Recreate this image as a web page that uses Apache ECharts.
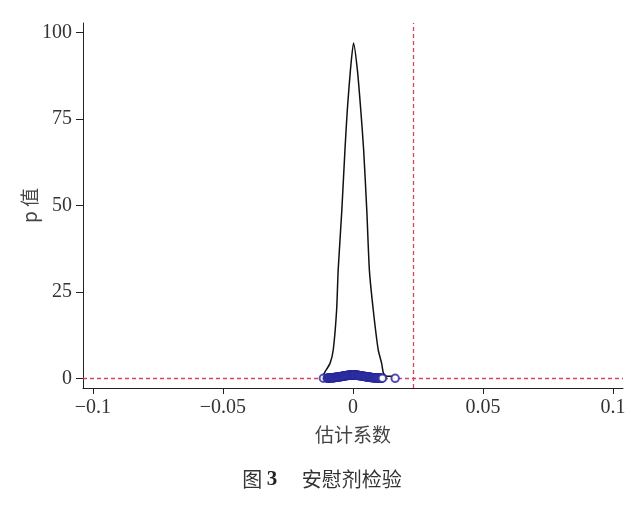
<!DOCTYPE html>
<html>
<head>
<meta charset="utf-8">
<script src="https://cdn.jsdelivr.net/npm/echarts@6/dist/echarts.min.js"></script>
<style>html,body{margin:0;padding:0;background:#fff;}#c{width:644px;height:506px;}</style>
</head>
<body>
<div id="c"></div>
<script>
// x tick labels / y tick labels
var xTicks = [-0.1, -0.05, 0, 0.05, 0.1];
var yTicks = [0, 25, 50, 75, 100];
// kernel density curve of placebo estimates (x = coefficient, y = density)
var densX = [-0.0115, -0.0108, -0.0088, -0.0076, -0.0063, -0.0057, -0.0043, -0.0031, -0.0022, -0.0010, 0.0002, 0.0017, 0.0030, 0.0041, 0.0053, 0.0063, 0.0078, 0.0097, 0.0110, 0.0117, 0.0130, 0.0154];
var densY = [0.9, 1.8, 4.4, 8.2, 19.7, 31.3, 48.6, 66.0, 77.5, 89.1, 97.0, 89.1, 77.5, 66.0, 48.6, 31.3, 19.7, 8.2, 4.4, 1.5, 0.6, 0.6];
// placebo estimates and their p values
var coefX = [-0.0114, -0.0099, -0.0097, -0.0095, -0.0093, -0.0090, -0.0088, -0.0085, -0.0083, -0.0081, -0.0079, -0.0077, -0.0075, -0.0073, -0.0071, -0.0068, -0.0066, -0.0064, -0.0063, -0.0060, -0.0058, -0.0056, -0.0055, -0.0053, -0.0051, -0.0048, -0.0046, -0.0044, -0.0043, -0.0040, -0.0038, -0.0036, -0.0035, -0.0033, -0.0031, -0.0029, -0.0027, -0.0024, -0.0022, -0.0020, -0.0019, -0.0016, -0.0014, -0.0012, -0.0011, -0.0008, -0.0006, -0.0004, -0.0002, 0.0000, 0.0001, 0.0003, 0.0005, 0.0007, 0.0009, 0.0011, 0.0013, 0.0016, 0.0018, 0.0020, 0.0021, 0.0023, 0.0025, 0.0028, 0.0030, 0.0032, 0.0034, 0.0036, 0.0039, 0.0041, 0.0043, 0.0045, 0.0047, 0.0049, 0.0051, 0.0052, 0.0054, 0.0057, 0.0059, 0.0061, 0.0063, 0.0065, 0.0067, 0.0069, 0.0071, 0.0073, 0.0075, 0.0077, 0.0079, 0.0081, 0.0083, 0.0086, 0.0088, 0.0090, 0.0093, 0.0095, 0.0097, 0.0100, 0.0102, 0.0105, 0.0108, 0.0111, 0.0113, 0.0162];
var pVal  = [0.02, 0.04, 0.06, 0.03, 0.08, 0.11, 0.07, 0.13, 0.10, 0.16, 0.14, 0.19, 0.17, 0.23, 0.20, 0.28, 0.25, 0.33, 0.29, 0.36, 0.33, 0.41, 0.38, 0.46, 0.43, 0.51, 0.48, 0.56, 0.53, 0.61, 0.58, 0.66, 0.63, 0.71, 0.68, 0.76, 0.73, 0.81, 0.79, 0.86, 0.83, 0.90, 0.87, 0.94, 0.91, 0.97, 0.95, 0.99, 0.97, 1.00, 0.98, 0.99, 0.96, 0.98, 0.93, 0.95, 0.89, 0.91, 0.85, 0.87, 0.80, 0.82, 0.76, 0.78, 0.70, 0.72, 0.65, 0.67, 0.59, 0.61, 0.54, 0.56, 0.49, 0.51, 0.44, 0.46, 0.39, 0.41, 0.34, 0.36, 0.29, 0.31, 0.25, 0.27, 0.21, 0.23, 0.18, 0.20, 0.15, 0.17, 0.12, 0.14, 0.10, 0.11, 0.08, 0.09, 0.06, 0.07, 0.05, 0.06, 0.04, 0.03, 0.03, 0.01];
// reference lines
var vLine = 0.0233;
var hLine = 0;

var chart = echarts.init(document.getElementById('c'));
var serif = '"Liberation Serif","Times New Roman",serif';
var cjk = '"Noto Sans CJK SC",sans-serif';
var red = '#d6455c';
var blue = '#27279c';

function fmtX(v){
  var r = Math.round(v*100)/100;
  var s = String(r);
  return s.replace('-', '\u2212');
}

chart.setOption({
  animation: false,
  backgroundColor: '#fff',
  grid: {left: 83, right: 21, top: 23, bottom: 118},
  title: {
    text: '{a|图 }{b|3}{a|　 安慰剂检验}',
    left: 'center',
    top: 464,
    textStyle: {
      fontWeight: 'normal',
      rich: {
        a: {fontFamily: cjk, fontSize: 20, fontWeight: 'normal', color: '#333'},
        b: {fontFamily: serif, fontSize: 21, fontWeight: 'bold', color: '#222'}
      }
    }
  },
  xAxis: {
    type: 'value',
    min: -0.1038, max: 0.1038,
    name: '估计系数',
    nameLocation: 'middle',
    nameGap: 37,
    nameMoveOverlap: false,
    nameTextStyle: {fontFamily: cjk, fontSize: 19, color: '#444'},
    axisLine: {onZero: false, lineStyle: {color: '#222', width: 1}},
    axisTick: {show: true, length: 6, customValues: xTicks, lineStyle: {color: '#222'}},
    axisLabel: {customValues: xTicks, formatter: fmtX, fontFamily: serif, fontSize: 20, color: '#333', margin: 10},
    splitLine: {show: false}
  },
  yAxis: {
    type: 'value',
    min: -2.8, max: 102.8,
    name: 'p 值',
    nameLocation: 'middle',
    nameGap: 44,
    nameMoveOverlap: false,
    nameRotate: 90,
    nameTextStyle: {fontFamily: cjk, fontSize: 19, color: '#444'},
    axisLine: {onZero: false, lineStyle: {color: '#222', width: 1}},
    axisTick: {show: true, length: 7, customValues: yTicks, lineStyle: {color: '#222'}},
    axisLabel: {customValues: yTicks, fontFamily: serif, fontSize: 20, color: '#333', margin: 11},
    splitLine: {show: false}
  },
  series: [
    {
      type: 'line',
      data: [],
      z: 1,
      markLine: {
        silent: true,
        symbol: 'none',
        precision: 4,
        z: 1,
        label: {show: false},
        lineStyle: {color: red, type: [4, 3], width: 1.3},
        data: [{xAxis: vLine}, {yAxis: hLine}]
      }
    },
    {
      type: 'line',
      data: densX.map(function(x,i){return [x, densY[i]];}),
      showSymbol: false,
      smooth: 0.2,
      lineStyle: {color: '#111', width: 1.5},
      z: 3
    },
    {
      type: 'scatter',
      data: coefX.map(function(x,i){return [x, pVal[i]];}),
      symbol: 'emptyCircle',
      symbolSize: 7.5,
      itemStyle: {color: blue, borderColor: blue, borderWidth: 2},
      z: 6
    }
  ]
});
</script>
</body>
</html>
